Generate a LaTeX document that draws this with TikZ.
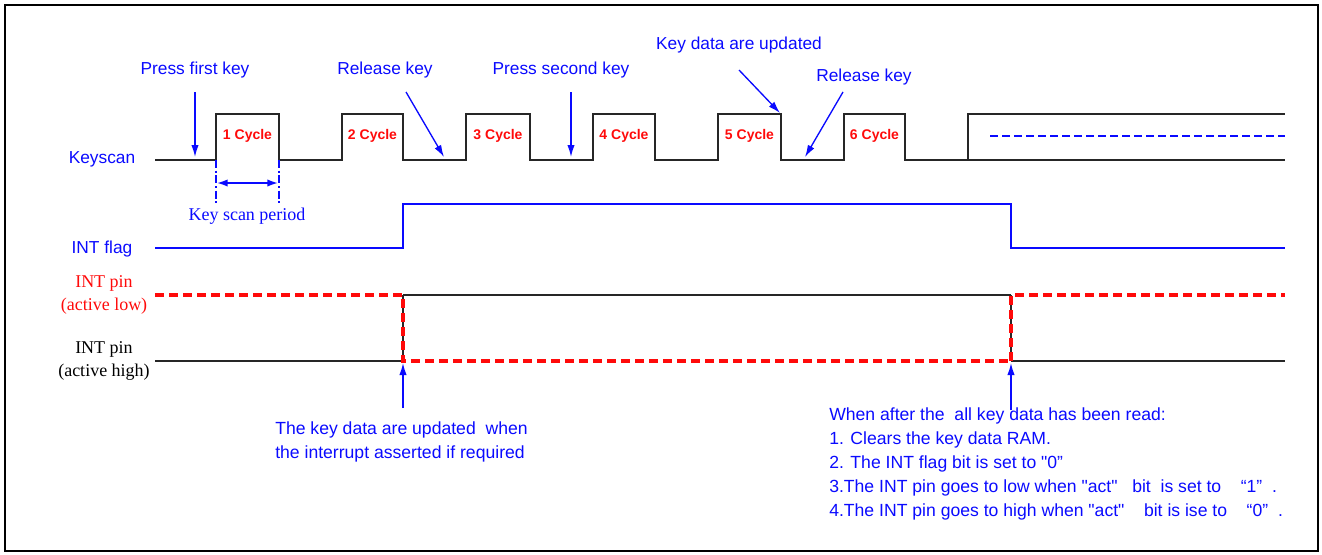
\documentclass[tikz,border=0pt]{standalone}
\usepackage{fontspec}
\setmainfont{Liberation Sans}
\newfontfamily\serifx{Liberation Serif}
\usetikzlibrary{arrows.meta}
\definecolor{sblue}{RGB}{10,10,255}
\definecolor{sred}{RGB}{255,10,10}
\newcommand{\sq}{\textquotedbl}
\begin{document}
\begin{tikzpicture}[x=0.75pt,y=-0.75pt,
  sig/.style={line width=1.2pt, black!85},
  bsig/.style={line width=1.1pt, sblue},
  rdash/.style={sred, line width=2.6pt, dash pattern=on 7pt off 3.5pt},
  lbl/.style={text=sblue, font=\fontsize{13}{15}\selectfont, inner sep=0pt},
  cyc/.style={text=sred, font=\bfseries\fontsize{10.5}{12}\selectfont, inner sep=0pt},
  slbl/.style={font=\serifx\fontsize{13.5}{17}\selectfont, inner sep=0pt, align=center},
  arr/.style={sblue, line width=1pt, -{Latex[length=9pt,width=5.5pt]}},
  note/.style={text=sblue, font=\fontsize{13.2}{18}\selectfont, inner sep=0pt, align=left, anchor=north west}
]
\useasboundingbox (0,0) rectangle (1322,554);
\draw[line width=1.6pt] (5,5) rectangle (1318,551);

% Keyscan waveform
\draw[sig] (155,160) -- (216,160) -- (216,114) -- (279,114) -- (279,160)
  -- (342,160) -- (342,114) -- (403,114) -- (403,160)
  -- (466,160) -- (466,114) -- (530,114) -- (530,160)
  -- (593,160) -- (593,114) -- (655,114) -- (655,160)
  -- (718,160) -- (718,114) -- (781,114) -- (781,160)
  -- (844,160) -- (844,114) -- (905,114) -- (905,160)
  -- (968,160) -- (968,114) -- (1285,114);
\draw[sig] (968,160) -- (1285,160);
\draw[sblue, line width=2pt, dash pattern=on 6pt off 3pt] (990,136) -- (1285,136);

\node[cyc] (c1) at (247.5,136) {1 Cycle};
\node[cyc] (c2) at (372.5,136) {2 Cycle};
\node[cyc] (c3) at (498,136) {3 Cycle};
\node[cyc] (c4) at (624,136) {4 Cycle};
\node[cyc] (c5) at (749.5,136) {5 Cycle};
\node[cyc] (c6) at (874.5,136) {6 Cycle};

\node[lbl] (ks) at (102,159) {Keyscan};
\node[lbl] (intf) at (102,249) {INT flag};

% event labels and arrows
\node[lbl] (p1) at (195,70) {Press first key};
\node[lbl] (r1) at (385,70) {Release key};
\node[lbl] (p2) at (561,70) {Press second key};
\node[lbl] (kd) at (739,45) {Key data are updated};
\node[lbl] (r2) at (864,77) {Release key};
\coordinate (p1s) at (195,92);  \coordinate (p1e) at (195,157);
\coordinate (r1s) at (406,92);  \coordinate (r1e) at (444,157);
\coordinate (p2s) at (571,92);  \coordinate (p2e) at (571,157);
\coordinate (kds) at (739,70);  \coordinate (kde) at (780,113);
\coordinate (r2s) at (843,92);  \coordinate (r2e) at (805,157);
\draw[arr] (p1s) -- (p1e);
\draw[arr] (r1s) -- (r1e);
\draw[arr] (p2s) -- (p2e);
\draw[arr] (kds) -- (kde);
\draw[arr] (r2s) -- (r2e);

% key scan period
\draw[sblue, line width=1.2pt, dash pattern=on 6pt off 2pt on 1.5pt off 2pt] (216,160) -- (216,205);
\draw[sblue, line width=1.2pt, dash pattern=on 6pt off 2pt on 1.5pt off 2pt] (279,160) -- (279,205);
\coordinate (kpa) at (217,183); \coordinate (kpb) at (278,183);
\draw[sblue, line width=1.2pt, {Latex[length=8pt,width=5.5pt]}-{Latex[length=8pt,width=5.5pt]}] (kpa) -- (kpb);
\node[slbl, text=sblue] (ksp) at (247,216) {Key scan period};

% INT flag
\draw[bsig] (155,248) -- (403,248) -- (403,204) -- (1011,204) -- (1011,248) -- (1285,248);

% INT pin active low / high
\draw[sig] (403,295) -- (1011,295);
\draw[sig] (155,361) -- (403,361);
\draw[sig] (1011,361) -- (1285,361);
\draw[sig] (403,295) -- (403,361);
\draw[sig] (1011,295) -- (1011,361);
\draw[rdash] (155,295) -- (403,295) -- (403,361) -- (1011,361);
\draw[rdash] (1011,361) -- (1011,295) -- (1285,295);

\node[slbl, text=sred] (ipl) at (104,295) {INT pin\\(active low)};
\node[slbl, text=black] (iph) at (104,361) {INT pin\\(active high)};

% bottom annotations
\coordinate (a1s) at (403,408); \coordinate (a1e) at (403,363);
\coordinate (a2s) at (1011,410); \coordinate (a2e) at (1011,363);
\draw[arr] (a1s) -- (a1e);
\draw[arr] (a2s) -- (a2e);

\node[note] (n1) at (275,421) {The key data are updated\ \ when\\the interrupt asserted if required};
\node[note] (n2) at (829,407) {When after the\ \ all key data has been read:\\
1. Clears the key data RAM.\\
2. The INT flag bit is set to \sq0”\\
3.The INT pin goes to low when \sq act\sq\ \ \ bit\ \ is set to\ \ \ \ “1”\ \ .\\
4.The INT pin goes to high when \sq act\sq\ \ \ \ bit is ise to\ \ \ \ “0”\ \ .};
\end{tikzpicture}
\end{document}
